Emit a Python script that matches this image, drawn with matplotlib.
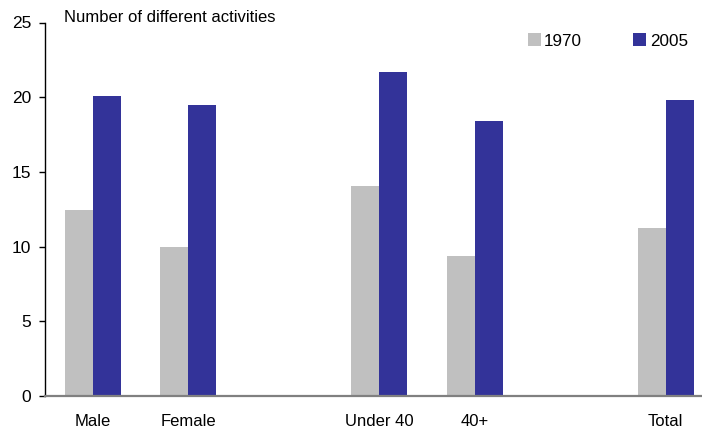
import matplotlib
matplotlib.use("Agg")
import matplotlib.pyplot as plt
import numpy as np

categories = ["Male", "Female", "Under 40", "40+", "Total"]
positions = [0, 1, 3, 4, 6]
values_1970 = [12.45, 9.97, 14.05, 9.36, 11.24]
values_2005 = [20.07, 19.46, 21.67, 18.39, 19.80]
series_labels = ["1970", "2005"]
yticks = [0, 5, 10, 15, 20, 25]

plt.rcParams["font.family"] = ["Liberation Sans", "DejaVu Sans"]

fig = plt.figure(figsize=(7.02, 4.29), dpi=100)
ax = fig.add_axes([45 / 702, 1 - 396 / 429, 1 - 45 / 702, (396 - 22.5) / 429])

width = 0.293
pos = np.array(positions, dtype=float)
ax.bar(pos - width / 2, values_1970, width, color="#c0c0c0", label=series_labels[0])
ax.bar(pos + width / 2, values_2005, width, color="#333399", label=series_labels[1])

ax.set_xlim(-0.5, 6.38)
ax.set_ylim(0, 25)
ax.set_yticks(yticks)
ax.set_xticks(positions)
ax.set_xticklabels(categories)

ax.tick_params(axis="y", direction="out", length=4, width=1, pad=6, labelsize=12.5, colors="black")
ax.tick_params(axis="x", length=0, pad=13, labelsize=12)

for side in ("top", "right"):
    ax.spines[side].set_visible(False)
ax.spines["left"].set_color("black")
ax.spines["left"].set_linewidth(1)
ax.spines["bottom"].set_color("#808080")
ax.spines["bottom"].set_linewidth(1.6)

fig.text(64 / 702, 1 - 17 / 429, "Number of different activities", fontsize=12, va="center", ha="left")

ax.legend(loc="center left", bbox_to_anchor=(528 / 702, 1 - 41 / 429), bbox_transform=fig.transFigure,
          ncol=2, frameon=False, fontsize=12.3, handlelength=0.75, handleheight=0.75,
          handletextpad=0.2, columnspacing=3.0, borderaxespad=0, borderpad=0)

fig.savefig("out.png", dpi=100)
